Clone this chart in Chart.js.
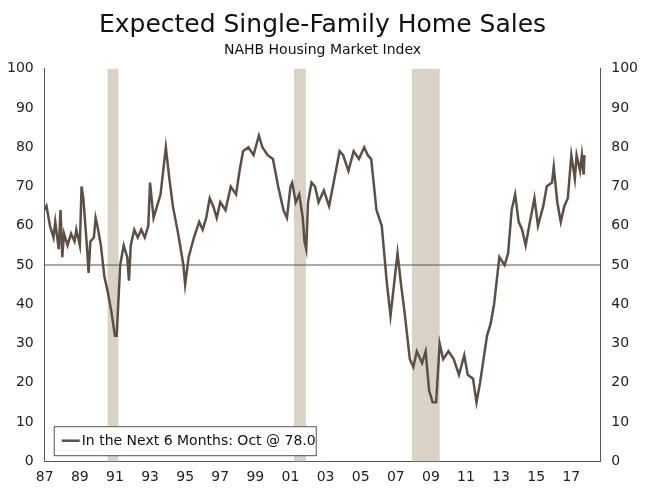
<!DOCTYPE html>
<html>
<head>
<meta charset="utf-8">
<script src="https://cdn.jsdelivr.net/npm/chart.js@4"></script>
<style>
  html, body { margin: 0; padding: 0; background: #fff; }
  #wrap { width: 645px; height: 491px; }
</style>
</head>
<body>
<div id="wrap"><canvas id="chart" width="645" height="491"></canvas></div>
<script>
// decimal years and index values
const years = [1987.0,1987.1,1987.3,1987.5,1987.6,1987.8,1987.9,1988.0,1988.1,1988.3,1988.5,1988.7,1988.8,1988.9,1989.0,1989.1,1989.2,1989.4,1989.5,1989.6,1989.8,1989.9,1990.0,1990.2,1990.4,1990.6,1990.8,1991.0,1991.1,1991.3,1991.5,1991.7,1991.8,1991.9,1992.1,1992.3,1992.5,1992.7,1992.9,1993.0,1993.2,1993.4,1993.6,1993.8,1993.9,1994.1,1994.3,1994.6,1994.9,1995.0,1995.2,1995.5,1995.8,1996.0,1996.2,1996.4,1996.6,1996.8,1997.0,1997.3,1997.6,1997.9,1998.1,1998.3,1998.6,1998.9,1999.2,1999.4,1999.7,2000.0,2000.3,2000.6,2000.8,2001.0,2001.1,2001.3,2001.5,2001.7,2001.8,2001.9,2002.0,2002.2,2002.4,2002.6,2002.9,2003.2,2003.5,2003.8,2004.0,2004.3,2004.6,2004.9,2005.2,2005.4,2005.6,2005.9,2006.2,2006.5,2006.7,2006.9,2007.1,2007.3,2007.5,2007.8,2008.0,2008.2,2008.5,2008.7,2008.9,2009.1,2009.3,2009.5,2009.7,2010.0,2010.3,2010.6,2010.9,2011.1,2011.4,2011.6,2011.8,2012.0,2012.2,2012.4,2012.6,2012.8,2012.9,2013.2,2013.4,2013.6,2013.8,2014.0,2014.2,2014.4,2014.6,2014.9,2015.1,2015.4,2015.6,2015.9,2016.0,2016.2,2016.4,2016.6,2016.8,2017.0,2017.2,2017.3,2017.5,2017.6,2017.7,2017.75];
const hmi = [64,65,60,57,61,54,64,52,58,55,58,56,59,57,55,70,67,55,48,56,57,62,60,55,47,43,38,32,32,50,55,52,46,55,59,57,59,57,60,71,62,65,68,76,80,72,65,58,50,45,52,57,61,59,62,67,65,62,66,64,70,68,74,79,80,78,83,80,78,77,70,64,62,70,71,66,68,62,56,54,66,71,70,66,69,65,72,79,78,74,79,77,80,78,77,64,60,45,37,45,53,45,38,26,24,28,25,28,18,15,15,30,26,28,26,22,27,22,21,15,20,26,32,35,40,48,52,50,53,64,68,61,59,55,60,67,60,65,70,71,75,66,61,65,67,78,72,78,74,78,73,78];
const recessionStart = [1990.58, 2001.2, 2007.92];
const recessionEnd = [1991.2, 2001.88, 2009.5];
const yTicks = [0,10,20,30,40,50,60,70,80,90,100];
const legendLabel = "In the Next 6 Months: Oct @ 78.0";

const lineColor = "#5b4f46";
const fontFam = "'DejaVu Sans', Verdana, sans-serif";

const extras = {
  id: "extras",
  beforeDatasetsDraw(chart) {
    const { ctx, chartArea: a, scales: { x, y } } = chart;
    ctx.save();
    ctx.fillStyle = "#d9d3c7";
    recessionStart.forEach((s, i) => {
      const x0 = x.getPixelForValue(s), x1 = x.getPixelForValue(recessionEnd[i]);
      ctx.fillRect(x0, a.top, x1 - x0, a.bottom - a.top);
    });
    const y50 = y.getPixelForValue(50);
    ctx.strokeStyle = "#555";
    ctx.lineWidth = 1;
    ctx.beginPath();
    ctx.moveTo(a.left, y50);
    ctx.lineTo(a.right, y50);
    ctx.stroke();
    ctx.restore();
  },
  afterDatasetsDraw(chart) {
    const { ctx, chartArea: a } = chart;
    ctx.save();
    const bx = a.left + 9, by = a.bottom - 35, bw = 262, bh = 29;
    ctx.fillStyle = "#fff";
    ctx.fillRect(bx, by, bw, bh);
    ctx.strokeStyle = "#555";
    ctx.lineWidth = 1;
    ctx.strokeRect(bx + 0.5, by + 0.5, bw, bh);
    ctx.strokeStyle = lineColor;
    ctx.lineWidth = 2.5;
    ctx.beginPath();
    ctx.moveTo(bx + 8, by + bh / 2);
    ctx.lineTo(bx + 26, by + bh / 2);
    ctx.stroke();
    ctx.fillStyle = "#111";
    ctx.font = "14px " + fontFam;
    ctx.textBaseline = "middle";
    ctx.fillText(legendLabel, bx + 28, by + bh / 2 + 1);
    ctx.restore();
  }
};

const tickOpts = { color: "#222", font: { family: fontFam, size: 14 } };

new Chart(document.getElementById("chart"), {
  type: "line",
  data: {
    datasets: [{
      data: years.map((t, i) => ({ x: t, y: hmi[i] })),
      borderColor: lineColor,
      borderWidth: 2.5,
      pointRadius: 0,
      tension: 0
    }]
  },
  options: {
    responsive: false,
    animation: false,
    layout: { padding: { left: 4, right: 4, top: 0, bottom: 2 } },
    plugins: {
      legend: { display: false },
      tooltip: { enabled: false },
      title: {
        display: true,
        text: "Expected Single-Family Home Sales",
        color: "#111",
        font: { family: fontFam, size: 25, weight: "normal" },
        padding: { top: 10, bottom: 0 }
      },
      subtitle: {
        display: true,
        text: "NAHB Housing Market Index",
        color: "#111",
        font: { family: fontFam, size: 14 },
        padding: { top: 2, bottom: 10 }
      }
    },
    scales: {
      x: {
        type: "linear",
        min: 1987,
        max: 2018.65,
        afterBuildTicks(s) {
          s.ticks = [];
          for (let v = 1987; v <= 2017; v += 2) s.ticks.push({ value: v });
        },
        ticks: Object.assign({ callback: v => String(v % 100).padStart(2, "0"), maxRotation: 0 }, tickOpts),
        grid: { display: false, drawTicks: true, tickLength: 5, color: "#555" },
        border: { color: "#555" }
      },
      y: {
        min: 0, max: 100,
        afterBuildTicks(s) { s.ticks = yTicks.map(v => ({ value: v })); },
        ticks: tickOpts,
        grid: { display: false },
        border: { color: "#555" }
      },
      y2: {
        position: "right",
        min: 0, max: 100,
        afterBuildTicks(s) { s.ticks = yTicks.map(v => ({ value: v })); },
        ticks: tickOpts,
        grid: { display: false },
        border: { color: "#555" }
      }
    }
  },
  plugins: [extras]
});
</script>
</body>
</html>
